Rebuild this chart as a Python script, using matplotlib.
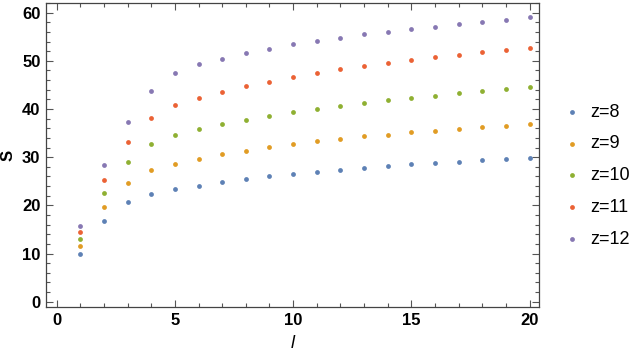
import matplotlib.pyplot as plt
from matplotlib.ticker import MultipleLocator

plt.rcParams['font.family'] = ['Liberation Sans', 'DejaVu Sans']

l_vals = list(range(1, 21))

s_z8 = [10.0, 16.7, 20.6, 22.3, 23.3, 24.1, 24.8, 25.5, 26.1, 26.6,
        27.0, 27.4, 27.8, 28.2, 28.5, 28.8, 29.1, 29.4, 29.6, 29.9]
s_z9 = [11.5, 19.6, 24.7, 27.4, 28.6, 29.7, 30.6, 31.3, 32.1, 32.7,
        33.3, 33.8, 34.3, 34.7, 35.2, 35.5, 35.9, 36.3, 36.5, 36.9]
s_z10 = [13.0, 22.5, 28.9, 32.7, 34.6, 35.8, 36.8, 37.8, 38.6, 39.4,
         40.1, 40.7, 41.3, 41.9, 42.3, 42.8, 43.3, 43.7, 44.2, 44.5]
s_z11 = [14.4, 25.3, 33.1, 38.1, 40.8, 42.3, 43.6, 44.7, 45.7, 46.6,
         47.5, 48.2, 48.9, 49.6, 50.2, 50.8, 51.3, 51.8, 52.3, 52.7]
s_z12 = [15.8, 28.3, 37.4, 43.7, 47.5, 49.4, 50.4, 51.6, 52.5, 53.4,
         54.2, 54.8, 55.5, 56.0, 56.6, 57.0, 57.6, 58.1, 58.5, 59.0]

labels = ["z=8", "z=9", "z=10", "z=11", "z=12"]
colors = ["#5E81B5", "#E19C24", "#8FB032", "#EB6235", "#8778B3"]
series = [s_z8, s_z9, s_z10, s_z11, s_z12]

fig = plt.figure(figsize=(6.44, 3.55), dpi=100)
ax = fig.add_axes([46 / 644, 48 / 355, (539 - 46) / 644, (307 - 3) / 355])

for vals, lab, c in zip(series, labels, colors):
    ax.scatter(l_vals, vals, s=12, color=c, label=lab, linewidths=0, zorder=3)

ax.set_xlim(-0.45, 20.4)
ax.set_ylim(-1.1, 62.0)
ax.xaxis.set_major_locator(MultipleLocator(5))
ax.xaxis.set_minor_locator(MultipleLocator(1))
ax.yaxis.set_major_locator(MultipleLocator(10))
ax.yaxis.set_minor_locator(MultipleLocator(2))
ax.tick_params(which="both", direction="in", top=True, right=True,
               color="#555555", width=0.8)
ax.tick_params(which="major", length=5, labelsize=12, pad=4)
ax.tick_params(which="minor", length=2.8)
for t in ax.get_xticklabels() + ax.get_yticklabels():
    t.set_fontweight("bold")
for sp in ax.spines.values():
    sp.set_color("#444444")
    sp.set_linewidth(0.9)

ax.set_xlabel("l", fontsize=13, style="italic")
ax.xaxis.set_label_coords((293 - 46) / 493, -(343 - 307) / 304)
ax.xaxis.label.set_va("center")
ax.set_ylabel("S", fontsize=12, fontweight="bold")
ax.yaxis.set_label_coords(-0.062, 0.5)

ax.legend(loc="center left", bbox_to_anchor=(1.05, 0.432), frameon=False,
          fontsize=13, handlelength=0.9, handletextpad=0.55, labelspacing=0.82,
          borderaxespad=0, borderpad=0)

fig.savefig("out.png", dpi=100)
